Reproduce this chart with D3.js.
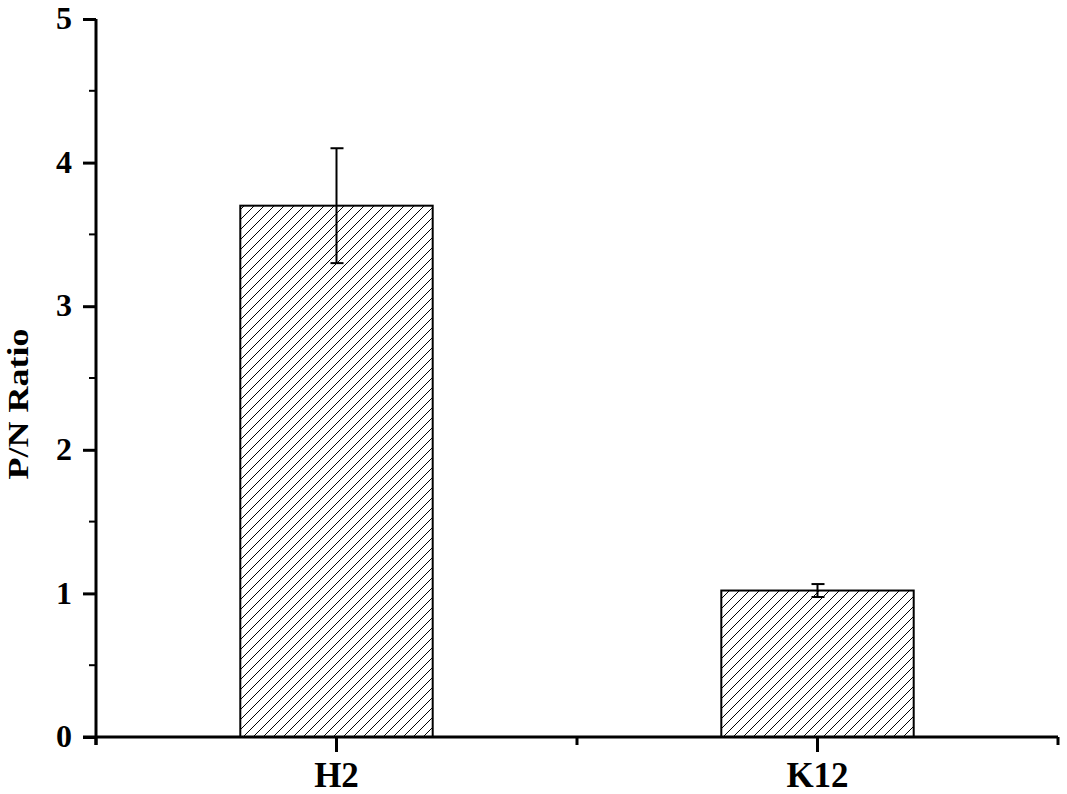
<!DOCTYPE html>
<html><head><meta charset="utf-8">
<script src="https://cdn.jsdelivr.net/npm/d3@7"></script>
<style>body{margin:0;background:#fff}svg{display:block}</style>
</head><body>
<svg id="c" width="1067" height="794"></svg>
<script>
const categories = ["H2", "K12"];
const values = [3.70, 1.02];
const errors = [0.40, 0.045];
const yTicks = [0, 1, 2, 3, 4, 5];
const yMinorTicks = [0.5, 1.5, 2.5, 3.5, 4.5];
const yLabel = "P/N Ratio";

const svg = d3.select("#c");
const x0 = 96, x1 = 1058, yTop = 19, yBot = 737;
const font = "'Liberation Serif','Times New Roman',serif";

const x = d3.scaleBand().domain(categories).range([x0, x1]).paddingInner(0.6).paddingOuter(0.3);
const y = d3.scaleLinear().domain([0, 5]).range([yBot, yTop]);

const defs = svg.append("defs");
const pat = defs.append("pattern").attr("id", "hatch").attr("patternUnits", "userSpaceOnUse")
  .attr("width", 10).attr("height", 10);
pat.append("rect").attr("width", 10).attr("height", 10).attr("fill", "#fff");
pat.append("path").attr("d", "M-1,1 l2,-2 M0,10 l10,-10 M9,11 l2,-2")
  .attr("stroke", "#000").attr("stroke-width", 1);

// bars
svg.selectAll("rect.bar").data(categories).join("rect").attr("class", "bar")
  .attr("x", d => x(d)).attr("width", x.bandwidth())
  .attr("y", (d, i) => y(values[i])).attr("height", (d, i) => y(0) - y(values[i]))
  .attr("fill", "url(#hatch)").attr("stroke", "#000").attr("stroke-width", 2);

// error bars
const eg = svg.selectAll("g.err").data(categories).join("g").attr("class", "err")
  .attr("stroke", "#000").attr("stroke-width", 2);
eg.append("line").attr("x1", d => x(d) + x.bandwidth() / 2).attr("x2", d => x(d) + x.bandwidth() / 2)
  .attr("y1", (d, i) => y(values[i] + errors[i])).attr("y2", (d, i) => y(values[i] - errors[i]));
eg.append("line").attr("x1", d => x(d) + x.bandwidth() / 2 - 6).attr("x2", d => x(d) + x.bandwidth() / 2 + 7)
  .attr("y1", (d, i) => y(values[i] + errors[i])).attr("y2", (d, i) => y(values[i] + errors[i]));
eg.append("line").attr("x1", d => x(d) + x.bandwidth() / 2 - 6).attr("x2", d => x(d) + x.bandwidth() / 2 + 7)
  .attr("y1", (d, i) => y(values[i] - errors[i])).attr("y2", (d, i) => y(values[i] - errors[i]));

// y axis
const yAxis = svg.append("g").attr("transform", `translate(${x0},0)`)
  .call(d3.axisLeft(y).tickValues(yTicks).tickFormat(d3.format("d")).tickSize(13).tickPadding(11));
yAxis.select(".domain").attr("d", `M0,${yTop}V${yBot + 8}`).attr("stroke-width", 3);
yAxis.selectAll(".tick line").attr("stroke-width", 3);
yAxis.selectAll(".tick text").attr("font-family", font).attr("font-weight", "bold")
  .attr("font-size", 32).attr("fill", "#000").attr("dy", "0.3em");
svg.append("g").selectAll("line").data(yMinorTicks).join("line")
  .attr("x1", x0 - 7).attr("x2", x0).attr("y1", d => y(d)).attr("y2", d => y(d))
  .attr("stroke", "#000").attr("stroke-width", 2);

// x axis
const xAxis = svg.append("g").attr("transform", `translate(0,${yBot})`)
  .call(d3.axisBottom(x).tickSize(15).tickPadding(14));
xAxis.select(".domain").attr("d", `M${x0 - 13},0H${x1}`).attr("stroke-width", 3);
xAxis.selectAll(".tick line").attr("stroke-width", 3);
xAxis.selectAll(".tick text").attr("font-family", font).attr("font-weight", "bold")
  .attr("font-size", 35).attr("fill", "#000").attr("y", 50).attr("dy", 0);
const xMinor = [x0, x0 + x.step(), x1];
svg.append("g").selectAll("line").data(xMinor).join("line")
  .attr("x1", d => d).attr("x2", d => d).attr("y1", yBot).attr("y2", yBot + 8)
  .attr("stroke", "#000").attr("stroke-width", 3);

// y label (horizontally stretched like the reference)
svg.append("text").attr("transform", `translate(28,404) rotate(-90) scale(1.2,1)`)
  .attr("text-anchor", "middle").attr("font-family", font).attr("font-weight", "bold")
  .attr("font-size", 30).attr("fill", "#000").text(yLabel);
</script>
</body></html>
